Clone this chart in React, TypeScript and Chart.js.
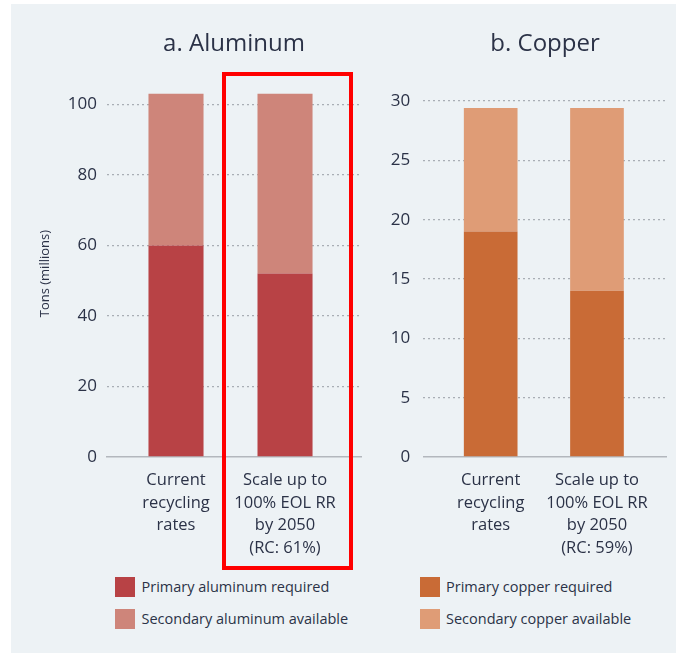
import React, { useEffect, useRef } from 'react';
import { Chart, registerables } from 'chart.js';

Chart.register(...registerables);

// ---- data ----
const categoryPositions = [0, 1];
const aluminumCategories = [
  ['Current', 'recycling', 'rates'],
  ['Scale up to', '100% EOL RR', 'by 2050', '(RC: 61%)'],
];
const copperCategories = [
  ['Current', 'recycling', 'rates'],
  ['Scale up to', '100% EOL RR', 'by 2050', '(RC: 59%)'],
];
const primaryAluminum = [60, 52];
const secondaryAluminum = [43, 51];
const primaryCopper = [19, 14];
const secondaryCopper = [10.4, 15.4];
const aluminumTicks = [0, 20, 40, 60, 80, 100];
const copperTicks = [0, 5, 10, 15, 20, 25, 30];
const aluminumLabels = ['Primary aluminum required', 'Secondary aluminum available'];
const copperLabels = ['Primary copper required', 'Secondary copper available'];

// ---- styles ----
const FONT = "'Open Sans', 'DejaVu Sans', sans-serif";
const TEXT = '#2b3247';
const PANEL = '#edf2f5';
const GRID = '#a9aeb5';
const AXIS = '#b3b7bd';
const alColors = ['#b84245', '#ce857a'];
const cuColors = ['#c96b36', '#df9c76'];

type PanelOpts = {
  title: string;
  categories: string[][];
  series: number[][];
  labels: string[];
  colors: string[];
  ticks: number[];
  yMax: number;
  xMin: number;
  xMax: number;
  yWidth: number;
  rightPad: number;
  tickPad: number;
  titleBottom: number;
  axisTitle?: string;
};

function makeConfig(o: PanelOpts): any {
  return {
    type: 'bar',
    data: {
      datasets: o.series.map((vals, si) => ({
        label: o.labels[si],
        data: categoryPositions.map((x, i) => ({ x, y: vals[i] })),
        backgroundColor: o.colors[si],
        borderWidth: 0,
        categoryPercentage: 1,
        barPercentage: 0.505,
      })),
    },
    options: {
      animation: false,
      responsive: false,
      devicePixelRatio: 1,
      layout: { padding: { left: 0, right: o.rightPad, top: 0, bottom: 0 } },
      plugins: {
        legend: { display: false },
        tooltip: { enabled: false },
        title: {
          display: true,
          text: o.title,
          fullSize: false,
          color: TEXT,
          font: { family: FONT, size: 24, weight: 'normal', lineHeight: 1.2 },
          padding: { top: 25.6, bottom: o.titleBottom },
        },
      },
      scales: {
        x: {
          type: 'linear',
          stacked: true,
          offset: false,
          min: o.xMin,
          max: o.xMax,
          grid: { display: false, drawTicks: false, offset: false },
          border: { display: true, color: AXIS, width: 1.5 },
          afterBuildTicks: (s: any) => {
            s.ticks = categoryPositions.map((v) => ({ value: v }));
          },
          afterFit: (s: any) => {
            s.height = 110;
          },
          ticks: {
            autoSkip: false,
            maxRotation: 0,
            minRotation: 0,
            padding: 12.5,
            color: TEXT,
            font: { family: FONT, size: 16.5, lineHeight: 1.36 },
            callback: (v: number) => o.categories[Math.round(v)] ?? '',
          },
        },
        y: {
          stacked: true,
          min: 0,
          max: o.yMax,
          afterBuildTicks: (s: any) => {
            s.ticks = o.ticks.map((v) => ({ value: v }));
          },
          afterFit: (s: any) => {
            s.width = o.yWidth;
          },
          grid: {
            drawTicks: false,
            lineWidth: 1.3,
            color: (c: any) => (c.tick && c.tick.value === 0 ? 'rgba(0,0,0,0)' : GRID),
          },
          border: { display: false, dash: [2, 3] },
          ticks: {
            padding: o.tickPad,
            color: TEXT,
            font: { family: FONT, size: 17 },
          },
          title: o.axisTitle
            ? {
                display: true,
                text: o.axisTitle,
                color: TEXT,
                font: { family: FONT, size: 13, lineHeight: 1.2 },
                padding: { top: 26.2, bottom: 0 },
              }
            : { display: false },
        },
      },
    },
  };
}

function Legend({ labels, colors, left }: { labels: string[]; colors: string[]; left: number }) {
  return (
    <>
      {labels.map((l, i) => (
        <div
          key={l}
          style={{
            position: 'absolute',
            left,
            top: 577 + i * 31.5,
            height: 20,
            display: 'flex',
            alignItems: 'center',
            whiteSpace: 'nowrap',
          }}
        >
          <span style={{ display: 'inline-block', width: 20, height: 20, background: colors[i] }} />
          <span
            style={{
              marginLeft: 6.5,
              fontFamily: FONT,
              fontSize: 14.5,
              color: TEXT,
              lineHeight: '20px',
            }}
          >
            {l}
          </span>
        </div>
      ))}
    </>
  );
}

export default function App() {
  const alRef = useRef<HTMLCanvasElement>(null);
  const cuRef = useRef<HTMLCanvasElement>(null);

  useEffect(() => {
    const al = new Chart(
      alRef.current as HTMLCanvasElement,
      makeConfig({
        title: 'a. Aluminum',
        categories: aluminumCategories,
        series: [primaryAluminum, secondaryAluminum],
        labels: aluminumLabels,
        colors: alColors,
        ticks: aluminumTicks,
        yMax: 104,
        xMin: -0.633,
        xMax: 1.697,
        yWidth: 96,
        rightPad: 10,
        tickPad: 10,
        titleBottom: 31.8,
        axisTitle: 'Tons (millions)',
      })
    );
    const cu = new Chart(
      cuRef.current as HTMLCanvasElement,
      makeConfig({
        title: 'b. Copper',
        categories: copperCategories,
        series: [primaryCopper, secondaryCopper],
        labels: copperLabels,
        colors: cuColors,
        ticks: copperTicks,
        yMax: 30,
        xMin: -0.634,
        xMax: 1.656,
        yWidth: 52.3,
        rightPad: 9.3,
        tickPad: 13,
        titleBottom: 42.6,
      })
    );
    return () => {
      al.destroy();
      cu.destroy();
    };
  }, []);

  return (
    <div
      style={{
        position: 'absolute',
        left: 0,
        top: 0,
        width: 676,
        height: 653,
        background: '#ffffff',
        overflow: 'hidden',
      }}
    >
      <div style={{ position: 'absolute', left: 11, top: 4, right: 0, bottom: 0, background: PANEL }} />
      <canvas
        ref={alRef}
        width={360}
        height={563}
        style={{ position: 'absolute', left: 11, top: 4, width: 360, height: 563 }}
      />
      <canvas
        ref={cuRef}
        width={305}
        height={563}
        style={{ position: 'absolute', left: 371, top: 4, width: 305, height: 563 }}
      />
      <Legend labels={aluminumLabels} colors={alColors} left={115} />
      <Legend labels={copperLabels} colors={cuColors} left={419.5} />
      <div
        style={{
          position: 'absolute',
          left: 222,
          top: 72,
          width: 131,
          height: 498,
          boxSizing: 'border-box',
          border: '4.5px solid #ff0000',
        }}
      />
    </div>
  );
}
